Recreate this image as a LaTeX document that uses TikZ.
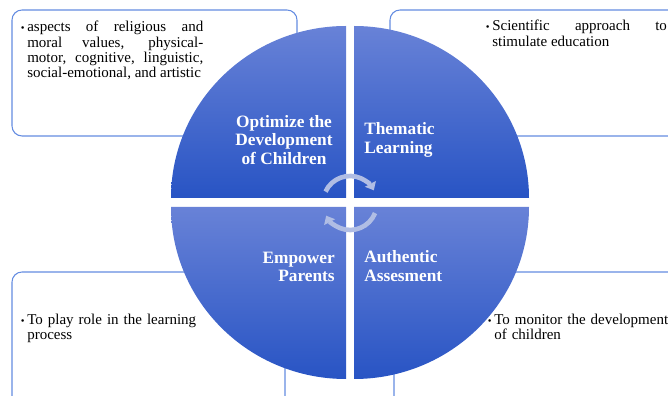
\documentclass[tikz,border=0pt]{standalone}
\usepackage{fontspec}
\setmainfont{Liberation Serif}
\usetikzlibrary{arrows.meta}
\hbadness=10000

\definecolor{wedgetop}{RGB}{104,130,215}
\definecolor{wedgebot}{RGB}{40,84,196}
\definecolor{boxline}{RGB}{100,140,225}
\definecolor{cyclecol}{RGB}{176,189,228}

\tikzset{
	infobox/.style={draw=boxline, line width=0.8pt, rounded corners=7.5pt},
	wedge/.style={top color=wedgetop, bottom color=wedgebot, draw=none},
	caption/.style={inner sep=0pt, text=white, font=\fontsize{13}{14}\selectfont\bfseries},
	bullettext/.style={inner sep=0pt, anchor=north west, font=\fontsize{11.25}{11.5}\selectfont},
	cyclearrow/.style={draw=cyclecol, line width=3.5pt, -{Triangle[width=9pt,length=5.5pt]}}
}
\newcommand{\itembullet}{\noindent\llap{{\fontsize{8}{8}\selectfont\textbullet}\hspace{2pt}}\strut}

\begin{document}
\begin{tikzpicture}[x=0.75pt, y=0.75pt]
\useasboundingbox (0,0) rectangle (668,396);
\clip (0,0) rectangle (668,396);

\draw[infobox] (12,386) rectangle (297,260);
\draw[infobox] (390,386) rectangle (700,260);
\draw[infobox] (12,124) rectangle (285,-12);
\draw[infobox] (394,124) rectangle (700,-12);

\foreach \cx/\cy/\a in {346/198/90, 354/198/0, 346/189/180, 354/189/270}
	{\path[wedge] (\cx,\cy) -- ++({175*cos(\a)},{172*sin(\a)})
		arc[start angle=\a, delta angle=90, x radius=175, y radius=172] -- cycle;}

\node[caption, align=center] (optimize) at (284,256) {Optimize the\\Development\\of Children};
\node[caption, align=left, anchor=west] (thematic) at (364,256) {Thematic\\Learning};
\node[caption, align=right, anchor=east] (empower) at (335,129) {Empower\\Parents};
\node[caption, align=left, anchor=west] (authentic) at (364,130) {Authentic\\Assesment};

\node[bullettext, text width=132pt, align=justify] (aspects) at (27,375.2)
	{\itembullet aspects of religious and\linebreak moral values, physical-\linebreak motor, cognitive, linguistic,\linebreak social-emotional, and artistic};
\node[bullettext, text width=131pt, align=justify] (scientific) at (492,376.2)
	{\itembullet Scientific approach to\linebreak stimulate education};
\node[bullettext, text width=132pt, align=left] (playrole) at (27,82.7)
	{\itembullet To play role in the learning process};
\node[bullettext, text width=135pt, align=left] (monitor) at (494,82.7)
	{\itembullet To monitor the development of children};

\coordinate (hub) at (350,193);
\draw[cyclearrow] ([shift={(155:27)}]hub) arc[start angle=155, end angle=28, radius=27];
\draw[cyclearrow] ([shift={(-22:27)}]hub) arc[start angle=-22, end angle=-152, radius=27];

\end{tikzpicture}
\end{document}
